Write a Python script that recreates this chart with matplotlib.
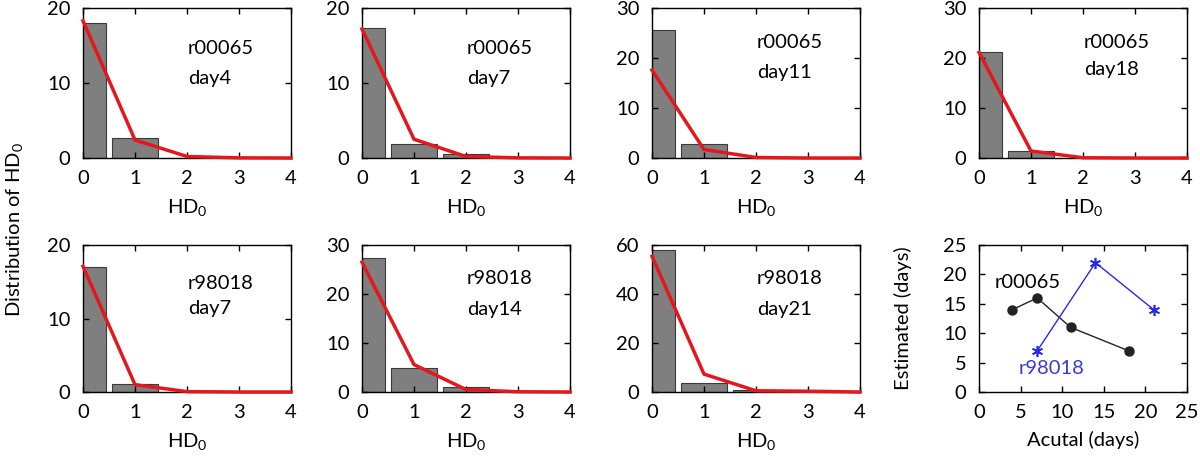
import matplotlib.pyplot as plt
import numpy as np

plt.rcParams['font.family'] = ['Lato', 'DejaVu Sans']
plt.rcParams['font.size'] = 14.5
plt.rcParams['mathtext.fontset'] = 'custom'
plt.rcParams['mathtext.rm'] = 'Lato'
plt.rcParams['mathtext.it'] = 'Lato:italic'
plt.rcParams['mathtext.default'] = 'rm'

hd = [0, 1, 2, 3, 4]

# histogram bars (gray) and fitted distribution (red), one per panel
runs = ['r00065', 'r00065', 'r00065', 'r00065', 'r98018', 'r98018', 'r98018']
days = ['day4', 'day7', 'day11', 'day18', 'day7', 'day14', 'day21']
ymax = [20, 20, 30, 30, 20, 30, 60]
ystep = [10, 10, 10, 10, 10, 10, 20]
bars = [
    [18.0, 2.7, 0.0, 0.0, 0.0],
    [17.3, 1.9, 0.5, 0.0, 0.0],
    [25.7, 2.9, 0.0, 0.0, 0.0],
    [21.2, 1.4, 0.0, 0.0, 0.0],
    [17.0, 1.1, 0.0, 0.0, 0.0],
    [27.3, 5.0, 1.0, 0.0, 0.0],
    [57.8, 3.7, 0.8, 0.8, 0.0],
]
fits = [
    [18.3, 2.4, 0.2, 0.02, 0.0],
    [17.2, 2.5, 0.2, 0.02, 0.0],
    [17.6, 1.7, 0.1, 0.0, 0.0],
    [21.1, 1.4, 0.05, 0.0, 0.0],
    [17.1, 1.0, 0.05, 0.0, 0.0],
    [26.5, 5.6, 0.5, 0.05, 0.0],
    [55.4, 7.3, 0.5, 0.3, 0.0],
]
text_y = [(0.73, 0.53), (0.73, 0.53), (0.77, 0.57), (0.77, 0.59),
          (0.74, 0.57), (0.77, 0.56), (0.77, 0.56)]

# estimated vs actual days
act_a = [4, 7, 11, 18]
est_a = [14, 16, 11, 7]
act_b = [7, 14, 21]
est_b = [7, 22, 14]

fig = plt.figure(figsize=(12, 4.59), dpi=100)
W, H = 1200.0, 459.0
lefts = [83, 362, 652, 979]
rows = [(8, 158), (245, 392)]
aw = 208


def style(ax):
    ax.tick_params(direction='in', top=True, right=True, length=4, width=1, pad=9)
    for s in ax.spines.values():
        s.set_linewidth(1.0)


for i in range(7):
    r, c = divmod(i, 4)
    top, bot = rows[r]
    ax = fig.add_axes([lefts[c] / W, 1 - bot / H, aw / W, (bot - top) / H])
    ax.bar(hd, bars[i], width=0.9, color='#7f7f7f', edgecolor='#3a3a3a', linewidth=0.8)
    ax.plot(hd, fits[i], color='#e4181c', linewidth=2.5, clip_on=False, zorder=3)
    ax.set_xlim(0, 4)
    ax.set_ylim(0, ymax[i])
    ax.set_xticks(hd)
    ax.set_yticks(np.arange(0, ymax[i] + 1, ystep[i]))
    ax.set_xlabel('HD$_0$', labelpad=7)
    ax.text(0.505, text_y[i][0], runs[i], transform=ax.transAxes, va='center')
    ax.text(0.505, text_y[i][1], days[i], transform=ax.transAxes, va='center')
    style(ax)

top, bot = rows[1]
ax = fig.add_axes([lefts[3] / W, 1 - bot / H, aw / W, (bot - top) / H])
ax.plot(act_a, est_a, color='#222222', linewidth=1, marker='o', markersize=6.5)
ax.plot(act_b, est_b, color='#2a2ae0', linewidth=1, marker=(6, 2, 0), markersize=8,
        markeredgewidth=1.2)
ax.text(5.9, 18.7, 'r00065', ha='center', va='center', color='black')
ax.text(8.7, 4.0, 'r98018', ha='center', va='center', color='#3a3ad8')
ax.set_xlim(0, 25)
ax.set_ylim(0, 25)
ax.set_xticks(range(0, 26, 5))
ax.set_yticks(range(0, 26, 5))
ax.set_xlabel('Acutal (days)', labelpad=7)
ax.set_ylabel('Estimated (days)', labelpad=22)
style(ax)

fig.text(0.012, 0.5, 'Distribution of HD$_0$', rotation=90, va='center', ha='center')

fig.savefig('out.png', dpi=100)
